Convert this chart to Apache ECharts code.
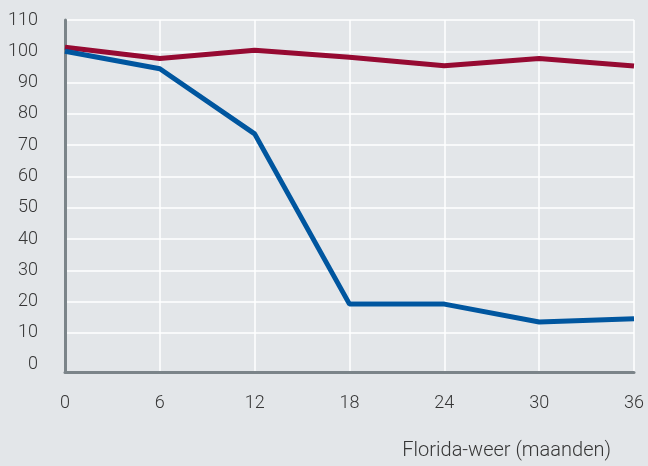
<!DOCTYPE html>
<html>
<head>
<meta charset="utf-8">
<script src="https://cdn.jsdelivr.net/npm/echarts@6/dist/echarts.min.js"></script>
<style>
  html, body { margin: 0; padding: 0; background: #e3e6e9; }
  #main { width: 648px; height: 466px; }
</style>
</head>
<body>
<div id="main"></div>
<script>
// maanden
const months = [0, 6, 12, 18, 24, 30, 36]
// rode lijn
const redValues = [101.3, 97.7, 100.3, 98.1, 95.4, 97.7, 95.3]
// blauwe lijn
const blueValues = [100, 94.4, 73.6, 19.2, 19.2, 13.5, 14.5]
const yTicks = [0, 10, 20, 30, 40, 50, 60, 70, 80, 90, 100, 110]
const xName = 'Florida-weer (maanden)'

const font = 'Roboto, sans-serif'
const textColor = '#363636'

let chart = echarts.init(document.getElementById('main'))
chart.setOption({
  backgroundColor: '#e3e6e9',
  animation: false,
  title: {
    text: xName,
    right: 37,
    top: 441,
    padding: 0,
    textStyle: { fontFamily: font, fontSize: 20, fontWeight: 300, color: textColor },
  },
  grid: { left: 65, right: 14, top: 20, bottom: 94 },
  xAxis: {
    type: 'value',
    min: 0,
    max: 36,
    interval: 6,
    axisLine: { show: true, onZero: false, lineStyle: { color: '#7b8489', width: 3 } },
    axisTick: { show: false },
    axisLabel: { margin: 22, fontFamily: font, fontSize: 18, fontWeight: 300, color: textColor },
    splitLine: { show: true, lineStyle: { color: '#ffffff', width: 1.5 } },
  },
  yAxis: {
    type: 'value',
    min: -2.5,
    max: 110,
    axisLine: { show: true, lineStyle: { color: '#7b8489', width: 3 } },
    axisTick: { show: false, customValues: yTicks },
    axisLabel: { customValues: yTicks, margin: 27, fontFamily: font, fontSize: 18, fontWeight: 300, color: textColor },
    splitLine: { show: true, showMinLine: false, lineStyle: { color: '#ffffff', width: 1.5 } },
  },
  series: [{
    type: 'line',
    data: months.map((m, i) => [m, redValues[i]]),
    symbol: 'none',
    lineStyle: { color: '#960a32', width: 5 },
  }, {
    type: 'line',
    data: months.map((m, i) => [m, blueValues[i]]),
    symbol: 'none',
    lineStyle: { color: '#00569f', width: 5 },
  }],
})
</script>
</body>
</html>
